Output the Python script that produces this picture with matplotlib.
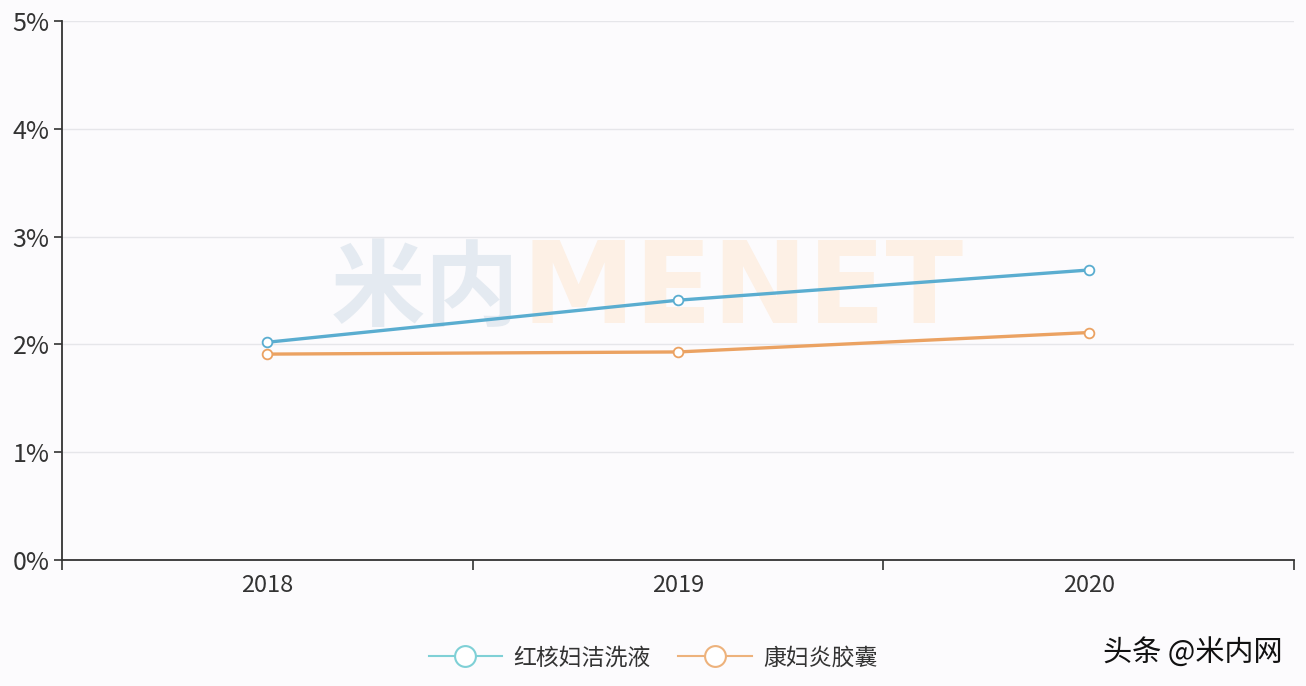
import matplotlib
matplotlib.use("Agg")
import matplotlib.pyplot as plt
from matplotlib.lines import Line2D

plt.rcParams['font.family'] = ['Noto Sans CJK SC', 'DejaVu Sans']

years = ["2018", "2019", "2020"]
series_names = ["红核妇洁洗液", "康妇炎胶囊"]
hongh = [2.02, 2.41, 2.69]
kangf = [1.91, 1.93, 2.11]
yticks = [0, 1, 2, 3, 4, 5]
ytick_labels = ["0%", "1%", "2%", "3%", "4%", "5%"]

bg = "#fcfbfd"
blue = "#5aadd0"
orange = "#eba262"
blue_leg = "#7fd0d6"
orange_leg = "#edb27c"

fig = plt.figure(figsize=(13.06, 6.86), dpi=100, facecolor=bg)
ax = fig.add_axes([62/1306, 126/686, (1294-62)/1306, (560-21)/686], facecolor=bg)

x = list(range(len(years)))

# watermark
ax.text(0.615, 2.49, "米内", fontsize=68, fontweight='heavy', color="#e4eaf1",
        ha='right', va='center', zorder=0, family=['Noto Sans CJK SC', 'DejaVu Sans'])
ax.text(0.62, 2.49, "MENET", fontsize=82, fontweight='bold', color="#fdf0e5",
        ha='left', va='center', zorder=0, family=['DejaVu Sans'])

ax.plot(x, hongh, color=blue, lw=2.4, marker='o', ms=7, mfc='white',
        mec=blue, mew=1.3, zorder=3)
ax.plot(x, kangf, color=orange, lw=2.4, marker='o', ms=7, mfc='white',
        mec=orange, mew=1.3, zorder=3)

ax.set_xlim(-0.5, 2.5)
ax.set_ylim(0, 5)
ax.set_yticks(yticks)
ax.set_yticklabels(ytick_labels)
ax.set_xticks(x)
ax.set_xticklabels(years)
ax.set_xticks([-0.5, 0.5, 1.5, 2.5], minor=True)
ax.tick_params(axis='x', which='major', length=0, pad=10, labelsize=17, labelcolor="#333333")
ax.tick_params(axis='x', which='minor', length=7, width=1.2, color="#333333", direction='out')
ax.tick_params(axis='y', length=6, width=1.2, color="#333333", labelsize=18, labelcolor="#333333", pad=3)

ax.grid(axis='y', color="#e6e6ea", lw=1)
ax.set_axisbelow(True)
for s in ['top', 'right']:
    ax.spines[s].set_visible(False)
for s in ['left', 'bottom']:
    ax.spines[s].set_color("#333333")
    ax.spines[s].set_linewidth(1.3)

handles = [
    Line2D([0], [0], color=blue_leg, lw=1.5, marker='o', ms=15, mfc='white', mec=blue_leg, mew=1.5),
    Line2D([0], [0], color=orange_leg, lw=1.5, marker='o', ms=15, mfc='white', mec=orange_leg, mew=1.5),
]
fig.legend(handles, series_names, loc='center', bbox_to_anchor=(0.5, 1 - 658/686),
           ncol=2, frameon=False, fontsize=16.5, handlelength=3.2, columnspacing=1.2,
           handletextpad=0.5, labelcolor="#333333")

fig.text(1283/1306, 1 - 653/686, "头条 @米内网", fontsize=21, color="#111111",
         ha='right', va='center')

fig.savefig("out.png", dpi=100, facecolor=bg)
